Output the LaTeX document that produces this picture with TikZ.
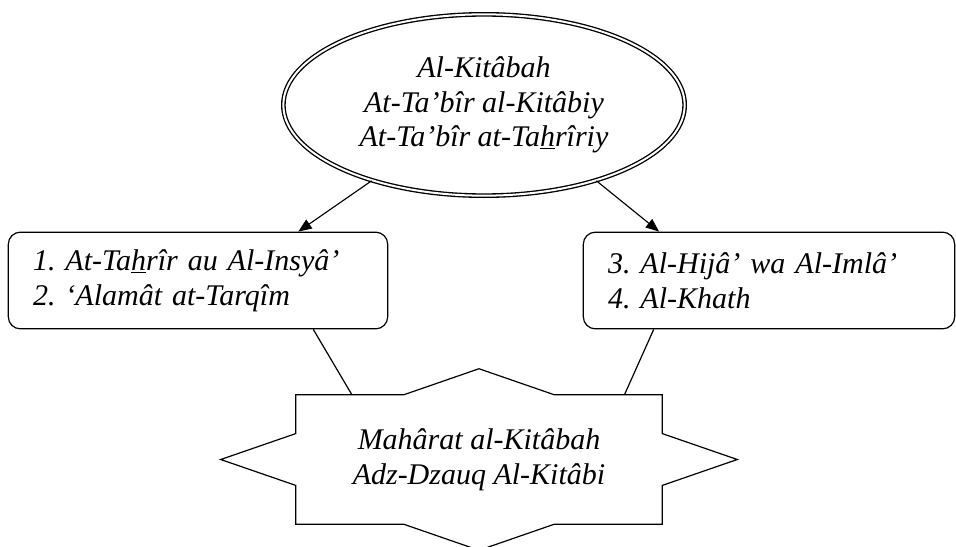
\documentclass[tikz,border=0pt]{standalone}
\usepackage{fontspec}
\setmainfont{Liberation Serif}
\usepackage{tikz}
\usetikzlibrary{arrows.meta,positioning,shapes.geometric,calc}
\frenchspacing
\tikzset{
  map/text/.style={font=\fontsize{22.5}{26}\selectfont\itshape},
  map/topic/.style={map/text, draw, ellipse, line width=1pt, double, double distance=1.5pt, minimum width=301pt, minimum height=136pt, align=center, inner sep=0pt},
  map/box/.style={map/text, draw, rounded corners=9pt, line width=0.9pt, minimum height=72.5pt, align=left, inner xsep=18.5pt, inner ysep=4pt},
  map/skill/.style={map/text, minimum width=274.5pt, minimum height=96.75pt, align=center, inner sep=0pt},
  map/outline/.style={line width=0.9pt, line join=miter},
  map/line/.style={line width=0.9pt},
  map/arr/.style={-{Triangle[length=10pt,width=8pt]}, line width=0.85pt}
}
\newcommand{\undr}[1]{\underline{#1}}

\begin{document}
\begin{tikzpicture}[x=0.75pt, y=-0.75pt]
  \useasboundingbox (0,0) rectangle (956,546);

  \node[map/topic] (topic) at (484,105) {Al-Kitâbah\\At-Ta’bîr al-Kitâbiy\\At-Ta’bîr at-Ta\undr{h}rîriy};

  \node[map/box, text width=247.5pt] (left) at (198,280.5) {1. At-Ta\undr{h}rîr au Al-Insyâ’\\2. ‘Alamât at-Tarqîm};
  \node[map/box, text width=241.5pt] (right) at (769,280.5) {3. Al-Hijâ’ wa Al-Imlâ’\\4. Al-Khath};

  \node[map/skill] (skill) at (479,459.5) {Mahârat al-Kitâbah\\Adz-Dzauq Al-Kitâbi};
  \draw[map/outline] (skill.north west)
    -- ($(skill.north west)!0.295!(skill.north east)$) -- ($(skill.north)+(0,-26)$)
    -- ($(skill.north west)!0.705!(skill.north east)$) -- (skill.north east)
    -- ($(skill.north east)!0.3!(skill.south east)$) -- ($(skill.east)+(75,0)$)
    -- ($(skill.north east)!0.7!(skill.south east)$) -- (skill.south east)
    -- ($(skill.south west)!0.705!(skill.south east)$) -- ($(skill.south)+(0,26)$)
    -- ($(skill.south west)!0.295!(skill.south east)$) -- (skill.south west)
    -- ($(skill.north west)!0.7!(skill.south west)$) -- ($(skill.west)+(-75,0)$)
    -- ($(skill.north west)!0.3!(skill.south west)$) -- cycle;

  \draw[map/arr] (topic.214) -- (left.26);
  \draw[map/arr] (topic.326) -- (right.156);
  \draw[map/line] (left.337) -- (skill.153);
  \draw[map/line] (right.203.6) -- (skill.24.7);
\end{tikzpicture}
\end{document}
